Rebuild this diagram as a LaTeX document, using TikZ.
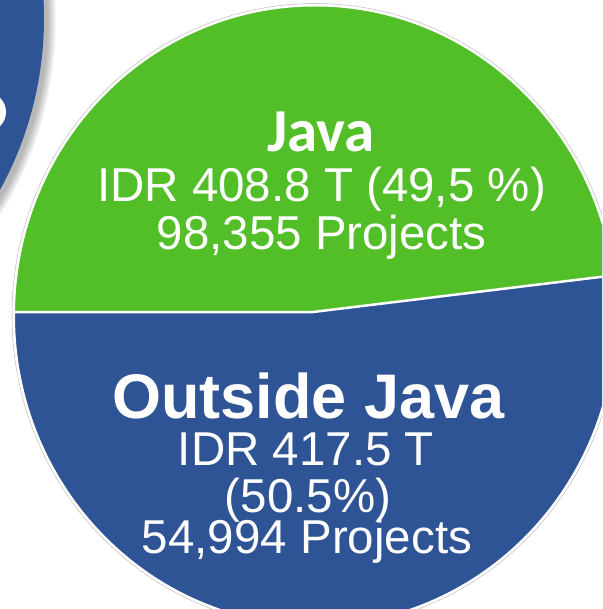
\documentclass[tikz,border=0pt]{standalone}
\usepackage{fontspec}
\setmainfont{Liberation Sans}
\newfontfamily\calibrifont{Carlito}
\definecolor{javagreen}{RGB}{82,190,40}
\definecolor{outblue}{RGB}{46,84,150}
\tikzset{
  slicetext/.style={anchor=base, inner sep=0pt, text=white},
  bodytext/.style={slicetext, font=\fontsize{47.5}{50}\selectfont},
  rim/.style={draw=white, line width=2pt},
}
\begin{document}
\begin{tikzpicture}[x=1pt,y=-1pt]
  \useasboundingbox (0,0) rectangle (602,609);
  \clip (0,0) rectangle (602,609);

  % large blue disc at the upper left, with a soft shadow
  \foreach \k in {9,...,1}
    \fill[black, opacity=0.035] (-310,21) circle [radius=357pt+\k pt];
  \fill[outblue] (-313,18) circle [radius=357pt];
  \fill[white] (-12,112) ellipse [x radius=18pt, y radius=19pt];

  % pie: faint outer ring
  \draw[gray!45, line width=0.6pt] (315,315.5) ellipse [x radius=303pt, y radius=312pt];
  % blue slice (whole disc), green slice on top
  \fill[outblue] (315,315.5) ellipse [x radius=301pt, y radius=310pt];
  \begin{scope}
    \clip (315,315.5) ellipse [x radius=301pt, y radius=310pt];
    \fill[javagreen] (-10,312) -- (313,312) -- (700,264.8) -- (700,-50) -- (-10,-50) -- cycle;
    \coordinate (lft) at (-10,312);
    \coordinate (ctr) at (313,312);
    \coordinate (rgt) at (700,264.8);
    \draw[white, line width=2.5pt, line join=round] (lft) -- (ctr) -- (rgt);
  \end{scope}
  \draw[rim] (315,315.5) ellipse [x radius=301pt, y radius=310pt];

  % labels of the green slice
  \node[slicetext, font=\calibrifont\bfseries\fontsize{61}{63}\selectfont] (java) at (321,151.5) {Java};
  \node[bodytext] (javaval) at (321.5,201.7) {IDR 408.8 T (49,5 \%)};
  \node[bodytext] (javaproj) at (321.7,250) {98,355 Projects};

  % labels of the blue slice
  \node[slicetext, font=\bfseries\fontsize{63}{66}\selectfont] (outside) at (308.5,418) {Outside Java};
  \node[bodytext] (outval) at (306,465) {IDR 417.5 T};
  \node[bodytext] (outpct) at (308,512.5) {(50.5\%)};
  \node[bodytext] (outproj) at (307,553) {54,994 Projects};
\end{tikzpicture}
\end{document}
